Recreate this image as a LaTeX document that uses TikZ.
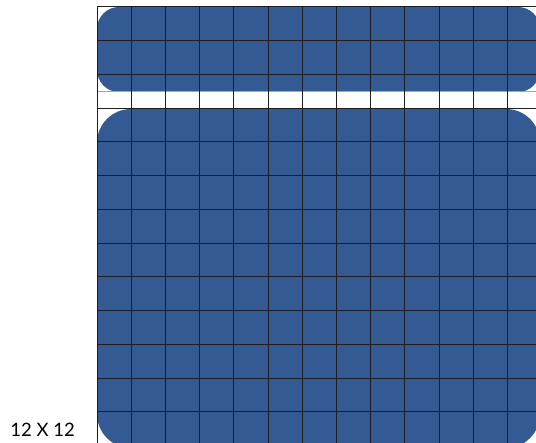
\documentclass[tikz,border=0pt]{standalone}
\usepackage{fontspec}
\setmainfont{Lato}
\usepackage{xcolor}
\usetikzlibrary{positioning,calc}
\definecolor{cellblue}{RGB}{51,90,146}
\definecolor{gridline}{RGB}{30,30,34}
\tikzset{
    gridrule/.style={gridline, line width=1pt},
    gaprule/.style={gray!70, line width=1pt},
    blob/.style={fill=cellblue, draw=none}
}

\begin{document}
\begin{tikzpicture}[x=1pt, y=-1pt]
    \useasboundingbox (0,0) rectangle (536,443);
    \clip (0,0) rectangle (536,443);
    % Blue blocks
    \fill[blob, rounded corners=22pt] (97,7) rectangle (540,92);
    \fill[blob, rounded corners=34pt] (97,109) rectangle (540,448);
    % Line in the gap
    \draw[gaprule] (97,92) -- (536,92);
    % Grid lines
    \foreach \i in {0,...,12} {
        \draw[gridrule] ({97+34.2*\i},7) -- ({97+34.2*\i},443);
    }
    \foreach \j in {0,...,12} {
        \draw[gridrule] (97,{7+33.75*\j}) -- (536,{7+33.75*\j});
    }
    % Size label
    \node[anchor=base east, font=\fontsize{18.5}{20}\selectfont, inner sep=0pt] (size) at (75,437) {12 X 12};
\end{tikzpicture}
\end{document}
